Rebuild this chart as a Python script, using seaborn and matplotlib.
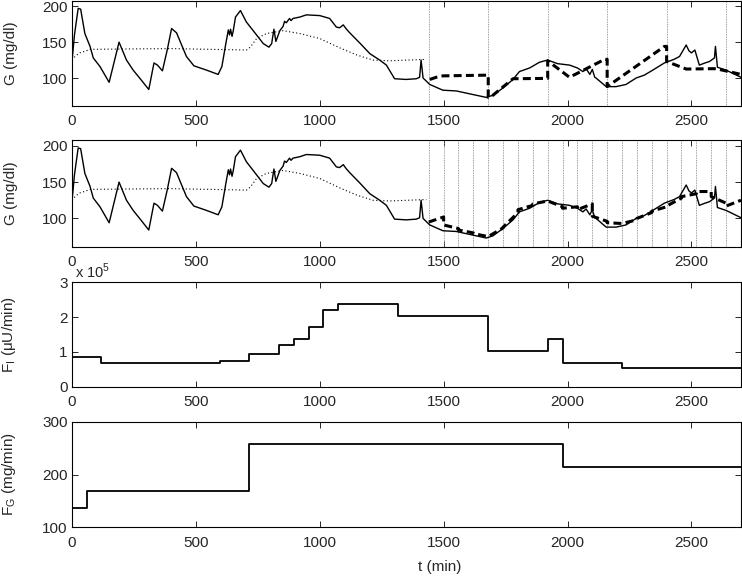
import numpy as np
import pandas as pd
import matplotlib
matplotlib.use("Agg")
import matplotlib.pyplot as plt
import seaborn as sns

# measured glucose (solid), mg/dl
t_meas = [0, 10, 25, 35, 52, 73, 86, 113, 150, 190, 220, 247, 280, 310, 331, 345, 365, 385, 402, 422,
          462, 492, 543, 590, 605, 621, 631, 636, 640, 646, 651, 660, 680, 704, 745, 772, 795, 806, 815,
          823, 839, 852, 858, 865, 878, 884, 892, 920, 946, 1000, 1040, 1067, 1080, 1095, 1108, 1121,
          1161, 1202, 1242, 1269, 1302, 1349, 1390, 1403, 1409, 1417, 1444, 1497, 1551, 1618, 1672, 1699,
          1739, 1780, 1806, 1847, 1887, 1920, 1960, 2008, 2040, 2062, 2075, 2090, 2100, 2110, 2115, 2156,
          2196, 2236, 2277, 2310, 2344, 2391, 2430, 2452, 2479, 2490, 2500, 2514, 2532, 2555, 2573, 2593,
          2597, 2605, 2640, 2670, 2700]
g_meas = [123, 160, 197, 196, 162, 144, 128, 116, 94, 150, 125, 111, 97, 84, 121, 118, 110, 140, 169, 163,
          130, 117, 111, 105, 116, 148, 167, 160, 168, 158, 166, 185, 194, 178, 160, 148, 143, 148, 168,
          151, 166, 172, 179, 177, 183, 180, 183, 185, 188, 187, 183, 171, 170, 174, 168, 163,
          149, 134, 125, 118, 99, 98, 99, 101, 125, 100, 91, 83, 82, 77, 73, 76,
          86, 98, 109, 114, 122, 125, 120, 118, 114, 109, 113, 105, 112, 101, 100, 88,
          88, 91, 100, 104, 111, 121, 126, 130, 146, 138, 135, 139, 118, 121, 123, 128,
          144, 115, 111, 106, 101]

# reference / model glucose (dotted), first day
t_ref = [0, 15, 31, 50, 73, 400, 704, 720, 745, 785, 852, 919, 1000, 1081, 1150, 1215, 1282, 1430]
g_ref = [125, 131, 135, 137, 140, 141, 139, 143, 155, 162, 166, 162, 155, 142, 132, 125, 124, 126]

# predictions, 240 min horizon (dashed, top)
t_p240 = [1444, 1470, 1497, 1680, 1680, 1699, 1780, 1920, 1920, 2008, 2150, 2160, 2160, 2391, 2400, 2400,
          2479, 2586, 2600, 2700]
g_p240 = [98, 101, 103, 104, 73, 76, 99, 99.5, 124, 101, 126, 126, 88, 144, 144, 123,
          112.5, 113, 113, 105]

# predictions, 60 min horizon (dashed, second panel)
t_p60 = [1440, 1500, 1500, 1560, 1560, 1620, 1620, 1680, 1680, 1740, 1740, 1800, 1800, 1860, 1860, 1920,
         1920, 1980, 1980, 2040, 2040, 2100, 2100, 2160, 2160, 2220, 2220, 2280, 2280, 2340, 2340, 2400,
         2400, 2460, 2460, 2520, 2520, 2580, 2580, 2640, 2640, 2700]
g_p60 = [95, 102, 91, 86, 84, 80, 79, 75, 75, 87, 88, 108, 112, 118, 120, 124,
         124, 116, 114, 116, 112, 120, 103, 96, 94, 93, 93, 98, 100, 108, 110, 116,
         117, 128, 130, 134, 137, 137, 130, 121, 117, 125]

# insulin infusion F_I (uU/min)
t_fi = [0, 117, 597, 715, 836, 895, 957, 1013, 1074, 1316, 1680, 1920, 1980, 2220, 2700]
fi = [0.86e5, 0.67e5, 0.74e5, 0.95e5, 1.20e5, 1.36e5, 1.72e5, 2.20e5, 2.37e5, 2.03e5, 1.03e5,
      1.36e5, 0.69e5, 0.53e5, 0.53e5]

# glucose infusion F_G (mg/min)
t_fg = [0, 59, 715, 1980, 2700]
fg = [136, 169, 257, 215, 215]

sns.set_style("ticks")
plt.rcParams['font.family'] = ['Liberation Sans', 'DejaVu Sans']
plt.rcParams['xtick.direction'] = 'in'
plt.rcParams['ytick.direction'] = 'in'
plt.rcParams['xtick.top'] = True
plt.rcParams['ytick.right'] = True
plt.rcParams['axes.linewidth'] = 0.8
plt.rcParams['axes.edgecolor'] = 'black'

fs = 11
fig = plt.figure(figsize=(7.42, 5.77), dpi=100)
left, width = 0.097, 0.9016
axes = [fig.add_axes([left, 0.8163, width, 0.1828]),
        fig.add_axes([left, 0.5724, width, 0.1850]),
        fig.add_axes([left, 0.3298, width, 0.1810]),
        fig.add_axes([left, 0.0861, width, 0.1830])]

meas = pd.DataFrame({"t": t_meas, "G": g_meas})
ref = pd.DataFrame({"t": t_ref, "G": g_ref})
p240 = pd.DataFrame({"t": t_p240, "G": g_p240})
p60 = pd.DataFrame({"t": t_p60, "G": g_p60})

dash = (0, (2.6, 1.4))
dot = (0, (1, 2.2))
for ax, pred, step in [(axes[0], p240, 240), (axes[1], p60, 60)]:
    for tv in range(1440, 2701, step):
        ax.axvline(tv, color='0.5', lw=0.6, ls=(0, (1, 1)), zorder=1)
    sns.lineplot(data=ref, x="t", y="G", ax=ax, color='black', lw=0.8, ls=dot,
                 estimator=None, sort=False)
    sns.lineplot(data=meas, x="t", y="G", ax=ax, color='black', lw=1.0,
                 estimator=None, sort=False)
    sns.lineplot(data=pred, x="t", y="G", ax=ax, color='black', lw=2.2, ls=dash,
                 estimator=None, sort=False)
    ax.set_ylim(61, 208)
    ax.set_yticks([100, 150, 200])
    ax.set_ylabel("G (mg/dl)", fontsize=fs)

fi_df = pd.DataFrame({"t": t_fi, "F": np.array(fi) / 1e5})
sns.lineplot(data=fi_df, x="t", y="F", ax=axes[2], color='black', lw=1.3, drawstyle='steps-post',
             estimator=None, sort=False)
axes[2].set_ylim(0, 3)
axes[2].set_yticks([0, 1, 2, 3])
axes[2].set_ylabel("F$_\\mathregular{I}$ (\u03bcU/min)", fontsize=fs)
axes[2].text(0.005, 1.01, "x 10$^\\mathregular{5}$", transform=axes[2].transAxes,
             fontsize=fs - 0.5, ha='left', va='bottom')

fg_df = pd.DataFrame({"t": t_fg, "F": fg})
sns.lineplot(data=fg_df, x="t", y="F", ax=axes[3], color='black', lw=1.3, drawstyle='steps-post',
             estimator=None, sort=False)
axes[3].set_ylim(100, 300)
axes[3].set_yticks([100, 200, 300])
axes[3].set_ylabel("F$_\\mathregular{G}$ (mg/min)", fontsize=fs)
axes[3].set_xlabel("t (min)", fontsize=fs)
axes[3].xaxis.set_label_coords(0.55, -0.31)

for ax in axes:
    ax.set_xlim(0, 2700)
    ax.set_xticks([0, 500, 1000, 1500, 2000, 2500])
    ax.tick_params(axis='x', labelsize=fs, pad=6, length=4, width=0.7)
    ax.tick_params(axis='y', labelsize=fs, pad=3, length=4, width=0.7)
    ax.yaxis.set_label_coords(-0.081, 0.5)
    if ax is not axes[3]:
        ax.set_xlabel("")
    for s in ax.spines.values():
        s.set_visible(True)

fig.savefig("out.png", dpi=100)
